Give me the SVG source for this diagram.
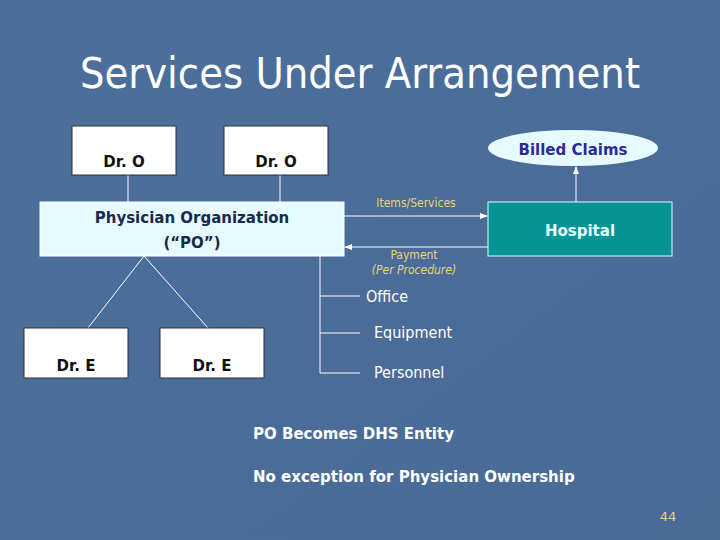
<svg xmlns="http://www.w3.org/2000/svg" width="720" height="540" viewBox="0 0 720 540">
<defs>
<linearGradient id="bg" x1="0" y1="0" x2="1" y2="1"><stop offset="0" stop-color="#4c6f9c"/><stop offset="1" stop-color="#4a6a96"/></linearGradient>
<marker id="ah" markerWidth="8" markerHeight="8" refX="7" refY="4" orient="auto" markerUnits="userSpaceOnUse"><path d="M0,1 L8,4 L0,7 Z" fill="#fff"/></marker>
</defs>
<style>
.box{fill:#fff;stroke:#333;stroke-width:1}
.t{font-family:"DejaVu Sans",Verdana,sans-serif;font-size:15px;text-anchor:middle;font-weight:bold}
.ln{stroke:#fff;stroke-width:1;fill:none}
.lab{font-family:"DejaVu Sans Condensed","DejaVu Sans",sans-serif;font-size:12px;fill:#e8d27a;text-anchor:middle}
.item{font-family:"DejaVu Sans Condensed","DejaVu Sans",sans-serif;font-size:16px;fill:#fff}
.note{font-family:"DejaVu Sans",sans-serif;font-size:15px;fill:#fff;font-weight:bold}
</style>
<rect width="720" height="540" fill="url(#bg)"/>
<text x="360" y="88" font-family="DejaVu Sans Condensed, DejaVu Sans, sans-serif" font-size="43" fill="#fff" text-anchor="middle">Services Under Arrangement</text>
<g id="connectors">
<line class="ln" x1="128" y1="175" x2="128" y2="202"/>
<line class="ln" x1="280" y1="175" x2="280" y2="202"/>
<line class="ln" x1="144" y1="256" x2="88" y2="328"/>
<line class="ln" x1="144" y1="256" x2="208" y2="328"/>
<line class="ln" stroke-width="2" x1="344" y1="216" x2="487" y2="216" marker-end="url(#ah)"/>
<line class="ln" stroke-width="2" x1="488" y1="247" x2="345" y2="247" marker-end="url(#ah)"/>
<line class="ln" stroke-width="2" x1="576" y1="202" x2="576" y2="167" marker-end="url(#ah)"/>
<path class="ln" d="M320,256 V373 M320,296 H360 M320,333 H360 M320,373 H360"/>
<text class="lab" x="416" y="207">Items/Services</text>
<text class="lab" x="414" y="259" font-size="10.5">Payment</text>
<text class="lab" x="414" y="274" font-size="10.5" font-style="italic">(Per Procedure)</text>
</g>
<g id="drO1"><rect class="box" x="72" y="126" width="104" height="49"/><text class="t" x="124" y="167" fill="#111">Dr. O</text></g>
<g id="drO2"><rect class="box" x="224" y="126" width="104" height="49"/><text class="t" x="276" y="167" fill="#111">Dr. O</text></g>
<g id="po"><rect x="40" y="202" width="304" height="54" fill="#e6fbff" stroke="#fff"/><text class="t" x="192" y="223" fill="#1a2a4a">Physician Organization</text><text class="t" x="192" y="248" fill="#1a2a4a">(“PO”)</text></g>
<g id="hospital"><rect x="488" y="202" width="184" height="54" fill="#079494" stroke="#dff"/><text class="t" x="580" y="236" fill="#e8ffff" font-size="16">Hospital</text></g>
<g id="claims"><ellipse cx="573" cy="148" rx="85" ry="18" fill="#e6fbff"/><text class="t" x="573" y="155" fill="#2a2a9a" font-size="16">Billed Claims</text></g>
<g id="drE1"><rect class="box" x="24" y="328" width="104" height="50"/><text class="t" x="76" y="371" fill="#111">Dr. E</text></g>
<g id="drE2"><rect class="box" x="160" y="328" width="104" height="50"/><text class="t" x="212" y="371" fill="#111">Dr. E</text></g>
<text class="item" x="366" y="302">Office</text>
<text class="item" x="374" y="338">Equipment</text>
<text class="item" x="374" y="378">Personnel</text>
<text class="note" x="253" y="439">PO Becomes DHS Entity</text>
<text class="note" x="253" y="482">No exception for Physician Ownership</text>
<text x="668" y="521" font-family="DejaVu Sans, sans-serif" font-size="13" fill="#e8d27a" text-anchor="middle">44</text>
</svg>
